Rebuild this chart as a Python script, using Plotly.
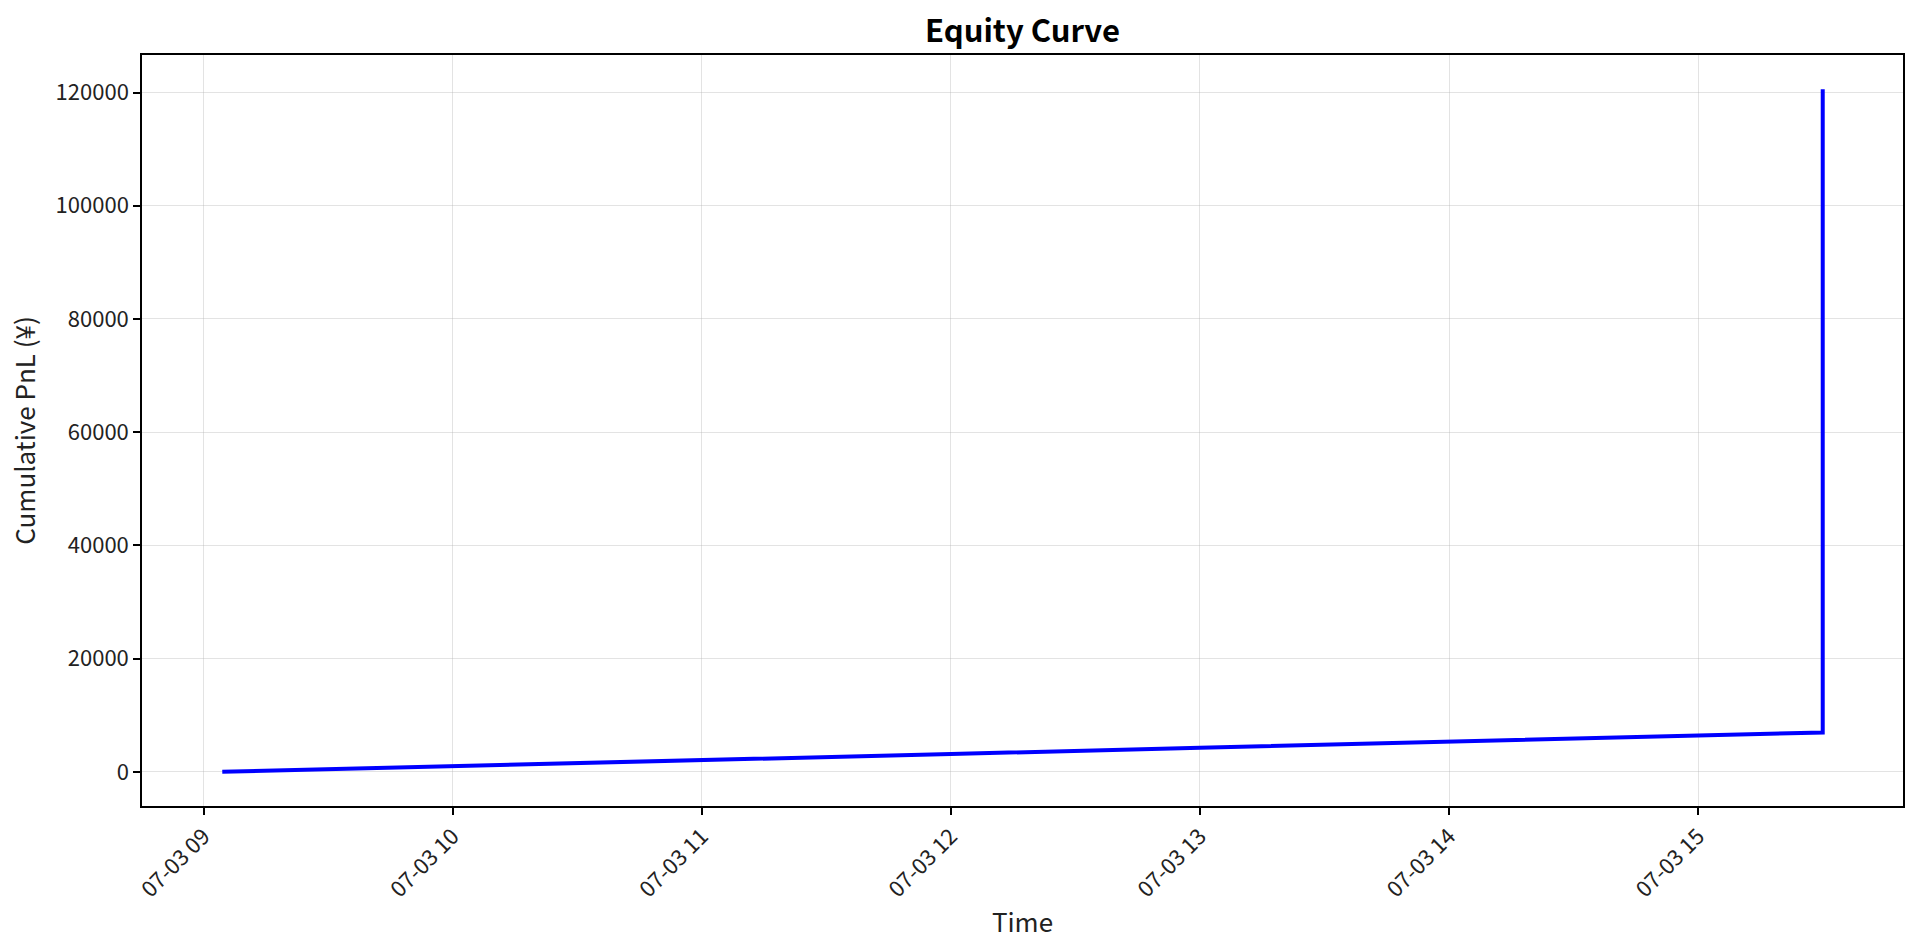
import plotly.graph_objects as go

# Data
times = [
    "2024-07-03 09:04:30", "2024-07-03 10:00:00", "2024-07-03 11:00:00",
    "2024-07-03 12:00:00", "2024-07-03 13:00:00", "2024-07-03 14:00:00",
    "2024-07-03 15:00:00", "2024-07-03 15:30:00", "2024-07-03 15:30:00",
    "2024-07-03 15:30:00",
]
cum_pnl = [0, 950, 2050, 3150, 4250, 5350, 6450, 6950, 93300, 120600]

y_ticks = [0, 20000, 40000, 60000, 80000, 100000, 120000]

FONT = "Noto Sans CJK JP, Noto Sans, sans-serif"

fig = go.Figure()
fig.add_trace(go.Scatter(
    x=times, y=cum_pnl, mode="lines",
    line=dict(color="#0000ff", width=4),
    showlegend=False,
))

fig.update_layout(
    width=1920, height=951,
    paper_bgcolor="white", plot_bgcolor="white",
    margin=dict(l=142, r=17, t=55, b=145),
    font=dict(family=FONT, color="#222222", size=22),
    title=dict(text="<b>Equity Curve</b>", x=0.5, xref="paper", xanchor="center",
               y=1 - 31 / 951, yanchor="middle",
               font=dict(family=FONT, size=31, color="black")),
)

fig.update_xaxes(
    type="date",
    range=["2024-07-03 08:45:10", "2024-07-03 15:49:20"],
    tick0="2024-07-03 09:00:00", dtick=3600000,
    tickformat="%m-%d %H", tickangle=-45,
    ticks="outside", ticklen=7, tickwidth=1.5, tickcolor="black",
    showline=True, linecolor="black", linewidth=1.5, mirror=True,
    showgrid=True, gridcolor="rgba(176,176,176,0.35)", gridwidth=1,
    zeroline=False,
    title=dict(text="Time", font=dict(family=FONT, size=26, color="#222222"), standoff=12),
    tickfont=dict(family=FONT, size=22, color="#222222"),
)

fig.update_yaxes(
    range=[-6030, 126630],
    tickmode="array", tickvals=y_ticks, ticktext=[str(v) for v in y_ticks],
    ticks="outside", ticklen=7, tickwidth=1.5, tickcolor="black",
    showline=True, linecolor="black", linewidth=1.5, mirror=True,
    showgrid=True, gridcolor="rgba(176,176,176,0.35)", gridwidth=1,
    zeroline=False,
    title=dict(text="Cumulative PnL (¥)", font=dict(family=FONT, size=26, color="#222222"), standoff=12),
    tickfont=dict(family=FONT, size=22, color="#222222"),
)

fig.write_html("out.html")
